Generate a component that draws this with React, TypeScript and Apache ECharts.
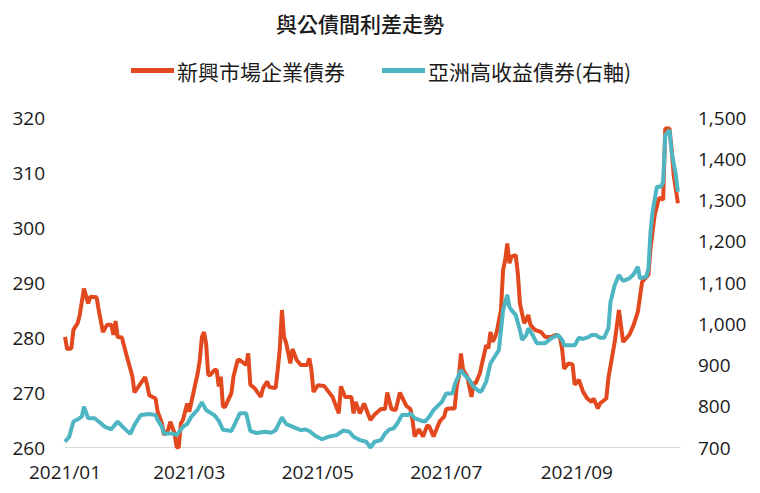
import React, { useEffect, useRef } from "react";
import * as echarts from "echarts";

const titleText = "與公債間利差走勢";
const redName = "新興市場企業債券";
const blueName = "亞洲高收益債券(右軸)";

const startDate = "2021-01-01";
const endDate = "2021-10-20";

const leftTicks = { min: 260, max: 320, interval: 10 };
const rightTicks = { min: 700, max: 1500, interval: 100 };

const redDates = [
  "01-01","01-02","01-04","01-05","01-07","01-08","01-10","01-12","01-13","01-16",
  "01-17","01-19","01-21","01-23","01-24","01-25","01-26","01-28","01-30","02-02",
  "02-03","02-06","02-08","02-09","02-10","02-13","02-14","02-16","02-17","02-19",
  "02-20","02-22","02-23","02-24","02-25","02-26","02-28","03-01","03-03","03-05",
  "03-06","03-07","03-08","03-09","03-10","03-11","03-13","03-14","03-15","03-16",
  "03-17","03-18","03-21","03-22","03-24","03-25","03-28","03-29","03-30","04-01",
  "04-04","04-05","04-07","04-08","04-11","04-12","04-13","04-14","04-15","04-16",
  "04-18","04-19","04-21","04-23","04-26","04-27","04-28","04-29","05-01","05-04",
  "05-08","05-11","05-12","05-14","05-17","05-18","05-19","05-21","05-23","05-26",
  "05-28","05-31","06-02","06-03","06-05","06-07","06-09","06-12","06-14","06-15",
  "06-16","06-18","06-20","06-22","06-23","06-25","06-27","06-28","06-30","07-01",
  "07-03","07-05","07-06","07-07","07-08","07-09","07-11","07-13","07-14","07-15",
  "07-17","07-18","07-20","07-21","07-22","07-23","07-24","07-25","07-27","07-28",
  "07-29","07-30","07-31","08-01","08-03","08-04","08-05","08-07","08-08","08-09",
  "08-10","08-12","08-15","08-17","08-20","08-22","08-24","08-25","08-26","08-28",
  "08-30","08-31","09-02","09-04","09-06","09-08","09-09","09-11","09-12","09-15",
  "09-16","09-19","09-21","09-23","09-26","09-28","09-30","10-02","10-05","10-06",
  "10-08","10-10","10-11","10-12","10-13","10-15","10-16","10-17","10-19"
];
const redValues = [
  280.1,277.9,278,281.4,282.6,284.1,288.9,286.2,287.4,287.3,
  285,281,282.3,282.3,280.5,283,280.1,280,277.1,272.9,
  270,271.7,272.8,271.4,269.5,268.9,266.5,264.4,262.3,263.2,
  264.7,262.6,260.1,260,264.4,265,268,266.5,270,273.5,
  275.9,280.1,281,278.9,273.2,273.2,274.1,274.1,271.1,272.9,
  267.4,267.4,269.9,272.9,275.9,275.9,275,277.1,271.4,270.8,
  269.2,270.8,272,271,270.8,274.1,278,285,280.1,279,
  275.3,277.9,275.9,275,275,276.2,274.1,270.1,271.3,271.2,
  269.2,266.2,271.1,269.2,269.2,266.2,268.3,266.2,268,265,
  266,267,267,270,267,266.8,270,267.6,267,265,
  262,263.3,262,264,263.8,262,263.9,264.8,265.6,267,
  267.1,267.1,271.1,272.9,277.1,274.1,272.9,269.2,271.7,271.7,
  273.5,275.3,278.6,278,281,279.2,279.9,281,285,292.3,
  294.1,297.1,293.5,294.7,295,291.7,286.2,282.6,283.2,284.1,
  282.3,281.4,281,280.1,280.1,280.5,280,278,274.3,275.3,
  275.1,271.4,272.3,270.1,268.9,268.3,268.9,267.1,268,268.9,
  272.6,279.2,285,279.2,280.5,282.3,284.7,290.1,291.4,296.2,
  302.3,305.3,305.3,305,318,318,314.4,309.5,304.4
];

const blueDates = [
  "01-01","01-03","01-05","01-07","01-09","01-10","01-12","01-15","01-17","01-20",
  "01-23","01-26","01-29","02-01","02-03","02-06","02-10","02-13","02-14","02-16",
  "02-17","02-21","02-23","02-26","02-28","03-02","03-05","03-07","03-09","03-13",
  "03-15","03-17","03-21","03-23","03-25","03-28","03-30","04-02","04-06","04-09",
  "04-11","04-14","04-16","04-20","04-23","04-25","04-27","04-30","05-03","05-06",
  "05-10","05-13","05-16","05-18","05-21","05-24","05-26","05-28","05-31","06-02",
  "06-04","06-06","06-08","06-10","06-13","06-14","06-16","06-19","06-21","06-23",
  "06-25","06-27","06-29","07-01","07-04","07-05","07-08","07-09","07-12","07-14",
  "07-17","07-18","07-20","07-22","07-24","07-26","07-27","07-28","07-30","07-31",
  "08-01","08-03","08-05","08-06","08-08","08-09","08-11","08-13","08-17","08-20",
  "08-23","08-25","08-26","08-29","08-31","09-02","09-04","09-07","09-08","09-10",
  "09-12","09-14","09-16","09-17","09-19","09-21","09-23","09-26","09-28","09-30",
  "10-01","10-04","10-05","10-06","10-07","10-09","10-11","10-12","10-13","10-15",
  "10-16","10-18","10-19"
];
const blueValues = [
  714,726,763,768,775,799,771,771,763,750,
  744,763,747,733,755,779,781,779,767,750,
  734,734,730,750,757,775,792,810,791,778,
  765,743,740,761,783,783,740,735,738,736,
  742,773,757,748,742,744,740,728,720,726,
  730,741,738,726,718,714,700,714,718,734,
  744,746,760,779,779,783,771,765,763,775,
  791,801,811,831,831,852,888,880,864,847,
  835,839,860,904,920,936,985,1033,1070,1041,
  1033,1021,985,961,973,989,973,953,953,965,
  973,961,948,948,948,966,963,969,973,973,
  966,966,989,1053,1094,1118,1104,1110,1120,1138,
  1110,1114,1134,1223,1272,1332,1332,1344,1457,1470,
  1417,1361,1320
];

function buildCategories(): string[] {
  const out: string[] = [];
  const s = Date.parse(startDate + "T00:00:00Z");
  const e = Date.parse(endDate + "T00:00:00Z");
  for (let t = s; t <= e; t += 86400000) {
    out.push(new Date(t).toISOString().slice(0, 10));
  }
  return out;
}

function align(categories: string[], dates: string[], values: number[]) {
  const idx: Record<string, number> = {};
  categories.forEach((c, i) => (idx[c] = i));
  const arr: (number | null)[] = categories.map(() => null);
  dates.forEach((d, i) => {
    const k = idx["2021-" + d];
    if (k !== undefined) arr[k] = values[i];
  });
  return arr;
}

const RED = "#E2491F";
const BLUE = "#4EB5C3";

export default function App() {
  const ref = useRef<HTMLDivElement>(null);
  useEffect(() => {
    if (!ref.current) return;
    const chart = echarts.init(ref.current, undefined, { renderer: "svg" });
    const categories = buildCategories();
    const redData = align(categories, redDates, redValues);
    const blueData = align(categories, blueDates, blueValues);
    const cjk = "'Noto Sans CJK TC', 'Noto Sans', sans-serif";
    const num = "'Open Sans', 'Noto Sans', sans-serif";
    chart.setOption({
      animation: false,
      backgroundColor: "#ffffff",
      title: {
        text: titleText,
        left: 276,
        top: 12,
        padding: 0,
        textStyle: { fontFamily: cjk, fontSize: 21, fontWeight: 500, color: "#1a1a1a" },
      },
      legend: {
        left: 131,
        top: 60,
        padding: 0,
        itemWidth: 43,
        itemHeight: 5,
        itemGap: 37,
        icon: "rect",
        textStyle: { fontFamily: cjk, fontSize: 21, color: "#1a1a1a", padding: [0, 0, 0, -2] },
        data: [redName, blueName],
      },
      grid: { left: 65, right: 80, top: 117.5, bottom: 45.5, containLabel: false },
      xAxis: {
        type: "category",
        data: categories,
        boundaryGap: false,
        axisTick: { show: false },
        axisLine: { show: true, lineStyle: { color: "#d9d9d9", width: 1 } },
        splitLine: { show: false },
        axisLabel: {
          margin: 15,
          fontFamily: num,
          fontSize: 19,
          color: "#1a1a1a",
          interval: (_i: number, v: string) => {
            const m = parseInt(v.slice(5, 7), 10);
            return v.slice(8, 10) === "01" && m % 2 === 1;
          },
          formatter: (v: string) => v.slice(0, 7).replace("-", "/"),
        },
      },
      yAxis: [
        {
          type: "value",
          min: leftTicks.min,
          max: leftTicks.max,
          interval: leftTicks.interval,
          axisLine: { show: false },
          axisTick: { show: false },
          splitLine: { show: false },
          axisLabel: { margin: 20, fontFamily: num, fontSize: 19, color: "#1a1a1a" },
        },
        {
          type: "value",
          min: rightTicks.min,
          max: rightTicks.max,
          interval: rightTicks.interval,
          position: "right",
          axisLine: { show: false },
          axisTick: { show: false },
          splitLine: { show: false },
          axisLabel: {
            margin: 18,
            fontFamily: num,
            fontSize: 19,
            color: "#1a1a1a",
            formatter: (v: number) => v.toLocaleString("en-US"),
          },
        },
      ],
      series: [
        {
          name: redName,
          type: "line",
          yAxisIndex: 0,
          data: redData,
          connectNulls: true,
          showSymbol: false,
          symbol: "none",
          color: RED,
          lineStyle: { color: RED, width: 4 },
        },
        {
          name: blueName,
          type: "line",
          yAxisIndex: 1,
          data: blueData,
          connectNulls: true,
          showSymbol: false,
          symbol: "none",
          color: BLUE,
          lineStyle: { color: BLUE, width: 4 },
        },
      ],
    });
    return () => chart.dispose();
  }, []);
  return (
    <div
      ref={ref}
      style={{ position: "fixed", left: 0, top: 0, width: 760, height: 493, background: "#fff" }}
    />
  );
}
